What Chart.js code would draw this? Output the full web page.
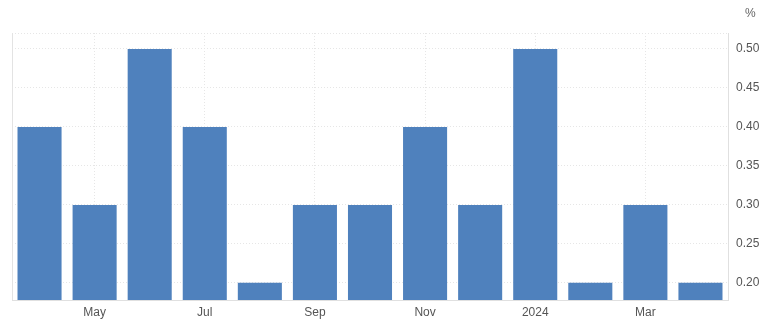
<!DOCTYPE html>
<html><head><meta charset="utf-8">
<script src="https://cdn.jsdelivr.net/npm/chart.js@4.4.1/dist/chart.umd.min.js"></script>
<style>html,body{margin:0;padding:0;background:#fff;}#wrap{width:768px;height:330px;position:relative;}</style>
</head><body><div id="wrap"><canvas id="c" width="768" height="330"></canvas></div>
<script>
const categories = ['Apr','May','Jun','Jul','Aug','Sep','Oct','Nov','Dec','2024','Feb','Mar','Apr'];
const shownLabels = ['May','Jul','Sep','Nov','2024','Mar'];
const values = [0.4,0.3,0.5,0.4,0.2,0.3,0.3,0.4,0.3,0.5,0.2,0.3,0.2];
const yTicks = [0.20,0.25,0.30,0.35,0.40,0.45,0.50];
const unitLabel = '%';

const framePlugin = {
  id:'frame',
  beforeDatasetsDraw(chart){
    const {ctx, chartArea:a} = chart;
    ctx.save();
    ctx.strokeStyle = '#e6e6e6'; ctx.lineWidth = 1;
    ctx.setLineDash([1,2]);
    ctx.beginPath(); ctx.moveTo(a.left, a.top+0.5); ctx.lineTo(a.right, a.top+0.5); ctx.stroke();
    ctx.setLineDash([]);
    ctx.strokeStyle = '#e3e3e3';
    ctx.beginPath(); ctx.moveTo(a.left+0.5, a.top); ctx.lineTo(a.left+0.5, a.bottom); ctx.stroke();
    ctx.restore();
  },
  afterDatasetsDraw(chart){
    const {ctx, chartArea:a} = chart;
    ctx.save();
    ctx.strokeStyle = '#e0e0e0'; ctx.lineWidth = 1;
    ctx.beginPath(); ctx.moveTo(a.right+0.5, a.top); ctx.lineTo(a.right+0.5, a.bottom+1); ctx.stroke();
    ctx.beginPath(); ctx.moveTo(a.left, a.bottom+0.5); ctx.lineTo(a.right, a.bottom+0.5); ctx.stroke();
    ctx.restore();
  },
  afterDraw(chart){
    const {ctx} = chart;
    ctx.save();
    ctx.fillStyle = '#666'; ctx.font = '12px "Liberation Sans", Arial, sans-serif';
    ctx.textAlign = 'left'; ctx.textBaseline = 'middle';
    ctx.fillText(unitLabel, 745, 14);
    ctx.restore();
  }
};

new Chart(document.getElementById('c'), {
  type:'bar',
  data:{labels:categories, datasets:[{data:values, backgroundColor:'#4f81bd', borderWidth:0, barPercentage:0.8, categoryPercentage:1}]},
  options:{
    responsive:false, animation:false,
    layout:{padding:{left:12, top:33, right:0, bottom:0}},
    plugins:{legend:{display:false}, tooltip:{enabled:false}},
    scales:{
      x:{
        offset:true,
        grid:{offset:false, drawTicks:false, color:(ctx)=> (ctx.index%2===1 ? '#e6e6e6' : 'rgba(0,0,0,0)')},
        border:{display:false, dash:[1,2]},
        ticks:{autoSkip:false, maxRotation:0, padding:5, color:'#555', font:{size:12, family:'"Liberation Sans", Arial, sans-serif'},
          callback:(v,i)=> shownLabels.includes(categories[i]) && i%2===1 ? categories[i] : ''},
        afterFit:(s)=>{s.height = 30;}
      },
      y:{
        position:'right', min:0.178, max:0.5205,
        afterBuildTicks:(s)=>{ s.ticks = yTicks.map(v=>({value:v})); },
        grid:{drawTicks:false, color:'#e6e6e6'},
        border:{display:false, dash:[1,2]},
        ticks:{padding:8, color:'#555', font:{size:12, family:'"Liberation Sans", Arial, sans-serif'}, callback:(v)=>v.toFixed(2)},
        afterFit:(s)=>{s.width = 40;}
      }
    }
  },
  plugins:[framePlugin]
});
</script></body></html>
